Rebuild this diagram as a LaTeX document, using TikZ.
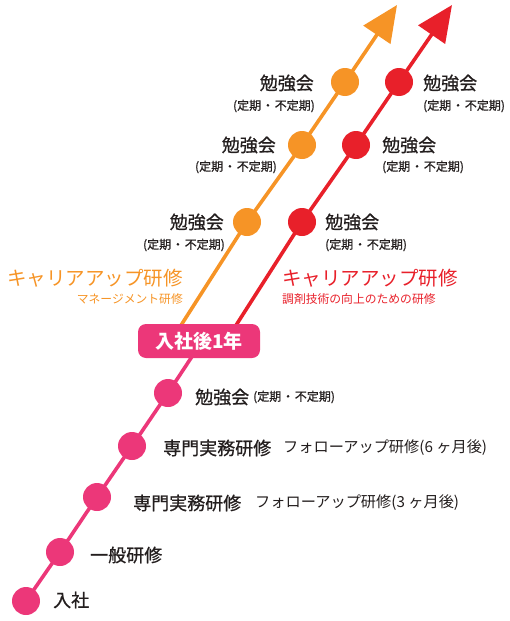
\documentclass[tikz,border=0pt]{standalone}
\usepackage{fontspec}
\setmainfont{Noto Sans CJK JP}
\newfontfamily\jpmed{Noto Sans CJK JP}[FakeBold=0.8]
\usetikzlibrary{arrows.meta,backgrounds}
\definecolor{pinkc}{RGB}{236,55,121}
\definecolor{orangec}{RGB}{246,148,38}
\definecolor{redc}{RGB}{232,32,42}
\definecolor{textc}{RGB}{35,30,30}
\newcommand{\fs}[1]{\fontsize{#1}{#1}\selectfont}
\newcommand{\teiki}{(定期\hspace{0.8pt}・\hspace{0.8pt}不定期)}
\begin{document}
\begin{tikzpicture}[x=1pt, y=-1pt,
    dot/.style={circle, fill=#1, minimum size=28pt, inner sep=0pt},
    lbl/.style={font=\jpmed\fs{18}, text=textc, inner sep=0pt},
    sub/.style={font=\jpmed\fs{12}, text=textc, inner sep=0pt},
    follow/.style={font=\fs{15.2}, text=textc, inner sep=0pt},
    head/.style={font=\fs{19.5}, text=#1, inner sep=0pt},
    headsub/.style={font=\fs{11.8}, text=#1, inner sep=0pt},
    line/.style={line width=3.6pt, draw=#1},
    arrow/.style={line width=3.6pt, draw=#1, -{Triangle[length=36pt, width=32pt]}, #1}]
    \useasboundingbox (0,0) rectangle (510,621);

    % 点
    \node[dot=pinkc] (p1) at (26,601) {};
    \node[dot=pinkc] (p2) at (60,552) {};
    \node[dot=pinkc] (p3) at (97,497) {};
    \node[dot=pinkc] (p4) at (132,446) {};
    \node[dot=pinkc] (p5) at (168,393) {};
    \node[dot=orangec] (o1) at (247,222) {};
    \node[dot=orangec] (o2) at (302,145) {};
    \node[dot=orangec] (o3) at (345,82) {};
    \node[dot=redc] (r1) at (302,222) {};
    \node[dot=redc] (r2) at (356,145) {};
    \node[dot=redc] (r3) at (399,82) {};
    \node[rectangle, rounded corners=8pt, fill=pinkc, minimum width=122pt, minimum height=34pt,
        text=white, font=\fs{19}\bfseries] (year) at (199,341) {入社後1年};

    % 線
    \coordinate (pend) at (193,355);
    \coordinate (ostart) at (178,330);
    \coordinate (rstart) at (233,330);
    \coordinate (otip) at (397,5);
    \coordinate (rtip) at (452,5);
    \begin{pgfonlayer}{background}
    \draw[line=pinkc] (p1.center) -- (p2.center) -- (p3.center) -- (p4.center) -- (p5.center) -- (pend);
    \draw[arrow=orangec] (ostart) -- (o1.center) -- (o2.center) -- (o3.center) -- (otip);
    \draw[arrow=redc] (rstart) -- (r1.center) -- (r2.center) -- (r3.center) -- (rtip);
    \end{pgfonlayer}

    % ラベル（入社〜1年）
    \node[lbl, anchor=west] (t1) at (53,600) {入社};
    \node[lbl, anchor=west] (t2) at (90,555) {一般研修};
    \node[lbl, anchor=west] (t3) at (133,503) {専門実務研修};
    \node[follow, anchor=west] (f3) at (255,503) {フォローアップ研修(3 ヶ月後)};
    \node[lbl, anchor=west] (t4) at (163,448) {専門実務研修};
    \node[follow, anchor=west] (f4) at (283,448) {フォローアップ研修(6 ヶ月後)};
    \node[lbl, anchor=west] (t5) at (195,397) {勉強会};
    \node[sub, anchor=west] (s5) at (253,397) {\teiki};

    % キャリアアップ研修（橙）
    \node[head=orangec, anchor=east] (ohead) at (183,278) {キャリアアップ研修};
    \node[headsub=orangec, anchor=east] (osub) at (183,299) {マネージメント研修};
    \node[lbl, anchor=east] (ot1) at (224,222) {勉強会};
    \node[sub, anchor=east] (os1) at (225,245) {\teiki};
    \node[lbl, anchor=east] (ot2) at (276,145) {勉強会};
    \node[sub, anchor=east] (os2) at (277,167) {\teiki};
    \node[lbl, anchor=east] (ot3) at (314,83) {勉強会};
    \node[sub, anchor=east] (os3) at (315,106) {\teiki};

    % キャリアアップ研修（赤）
    \node[head=redc, anchor=west] (rhead) at (282,278) {キャリアアップ研修};
    \node[headsub=redc, anchor=west] (rsub) at (282,299) {調剤技術の向上のための研修};
    \node[lbl, anchor=west] (rt1) at (325,222) {勉強会};
    \node[sub, anchor=west] (rs1) at (325,245) {\teiki};
    \node[lbl, anchor=west] (rt2) at (382,145) {勉強会};
    \node[sub, anchor=west] (rs2) at (382,167) {\teiki};
    \node[lbl, anchor=west] (rt3) at (423,83) {勉強会};
    \node[sub, anchor=west] (rs3) at (423,106) {\teiki};
\end{tikzpicture}
\end{document}
